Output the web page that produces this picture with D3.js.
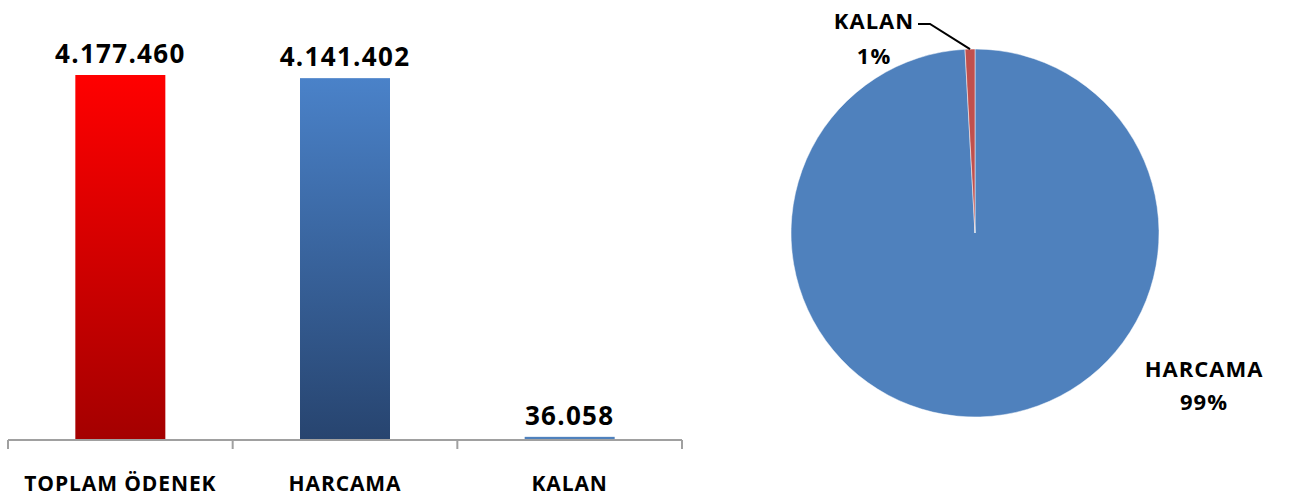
<!DOCTYPE html>
<html>
<head>
<meta charset="utf-8">
<script src="https://cdnjs.cloudflare.com/ajax/libs/d3/7.8.5/d3.min.js"></script>
<style>
  body { margin: 0; background: #fff; }
  svg text { font-family: 'Open Sans', 'Liberation Sans', sans-serif; font-weight: bold; fill: #000; }
</style>
</head>
<body>
<div id="chart"></div>
<script>
const categories = ['TOPLAM ÖDENEK', 'HARCAMA', 'KALAN'];
const values = [4177460, 4141402, 36058];
const valueLabels = ['4.177.460', '4.141.402', '36.058'];
const pieCategories = ['HARCAMA', 'KALAN'];
const pieValues = [4141402, 36058];
const pieLabels = ['99%', '1%'];

const svg = d3.select('#chart').append('svg')
  .attr('width', 1289)
  .attr('height', 498);

const defs = svg.append('defs');
const redGrad = defs.append('linearGradient').attr('id', 'gradRed')
  .attr('x1', 0).attr('y1', 0).attr('x2', 0).attr('y2', 1);
redGrad.append('stop').attr('offset', '0%').attr('stop-color', '#ff0000');
redGrad.append('stop').attr('offset', '100%').attr('stop-color', '#a40000');
const blueGrad = defs.append('linearGradient').attr('id', 'gradBlue')
  .attr('x1', 0).attr('y1', 0).attr('x2', 0).attr('y2', 1);
blueGrad.append('stop').attr('offset', '0%').attr('stop-color', '#4a82c9');
blueGrad.append('stop').attr('offset', '100%').attr('stop-color', '#27446f');

// bar chart
const axisY = 440;
const x = d3.scaleBand()
  .domain(categories)
  .range([8, 682])
  .paddingInner(0)
  .paddingOuter(0);

const y = d3.scaleLinear()
  .domain([0, 4177460])
  .range([axisY, 75]);

const fills = ['url(#gradRed)', 'url(#gradBlue)', '#4f81bd'];
const barW = 90;

svg.selectAll('.bar')
  .data(values)
  .enter()
  .append('rect')
  .attr('class', 'bar')
  .attr('x', (d, i) => x(categories[i]) + x.bandwidth() / 2 - barW / 2)
  .attr('y', d => y(d))
  .attr('width', barW)
  .attr('height', d => axisY - y(d))
  .style('fill', (d, i) => fills[i]);

svg.selectAll('.val')
  .data(values)
  .enter()
  .append('text')
  .attr('class', 'val')
  .attr('x', (d, i) => x(categories[i]) + x.bandwidth() / 2)
  .attr('y', d => y(d) - 12)
  .attr('text-anchor', 'middle')
  .style('font-size', '26px')
  .style('letter-spacing', '1.3px')
  .text((d, i) => valueLabels[i]);

const axis = svg.append('g')
  .attr('transform', `translate(0, ${axisY})`)
  .call(d3.axisBottom(x).tickSize(0).tickFormat(''));
axis.select('.domain').attr('stroke', '#a0a0a0').attr('stroke-width', 2).attr('d', `M${x.range()[0]},0H${x.range()[1]}`);
axis.selectAll('.tickmark')
  .data([0, 1, 2, 3])
  .enter()
  .append('line')
  .attr('x1', i => x.range()[0] + i * x.bandwidth())
  .attr('x2', i => x.range()[0] + i * x.bandwidth())
  .attr('y1', 0)
  .attr('y2', 9)
  .attr('stroke', '#a0a0a0')
  .attr('stroke-width', 2);

svg.selectAll('.cat')
  .data(categories)
  .enter()
  .append('text')
  .attr('class', 'cat')
  .attr('x', d => x(d) + x.bandwidth() / 2)
  .attr('y', 491)
  .attr('text-anchor', 'middle')
  .style('font-size', '21px')
  .style('letter-spacing', '0.9px')
  .text(d => d);

// pie chart
const cx = 975, cy = 233, r = 184;
const pie = d3.pie().sort(null).value(d => d);
const arc = d3.arc().innerRadius(0).outerRadius(r);
const pieColors = ['#4f81bd', '#c0504d'];

const pg = svg.append('g').attr('transform', `translate(${cx}, ${cy})`);
pg.selectAll('path')
  .data(pie(pieValues))
  .enter()
  .append('path')
  .attr('d', arc)
  .attr('fill', (d, i) => pieColors[i])
  .attr('stroke', '#fff')
  .attr('stroke-width', 0.5);

// labels
const lbl = (txt, lx, ly) => svg.append('text').attr('x', lx).attr('y', ly)
  .attr('text-anchor', 'middle')
  .style('font-size', '22px')
  .style('letter-spacing', '1px')
  .text(txt);
lbl(pieCategories[0], 1204, 377);
lbl(pieLabels[0], 1204, 410);
lbl(pieCategories[1], 874, 29);
lbl(pieLabels[1], 874, 64);

const kalanArc = pie(pieValues)[1];
const mid = (kalanArc.startAngle + kalanArc.endAngle) / 2;
const ex = cx + Math.sin(mid) * r, ey = cy - Math.cos(mid) * r;
svg.append('path')
  .attr('d', `M918,24H930L${ex},${ey}`)
  .attr('fill', 'none')
  .attr('stroke', '#000')
  .attr('stroke-width', 2);
</script>
</body>
</html>
